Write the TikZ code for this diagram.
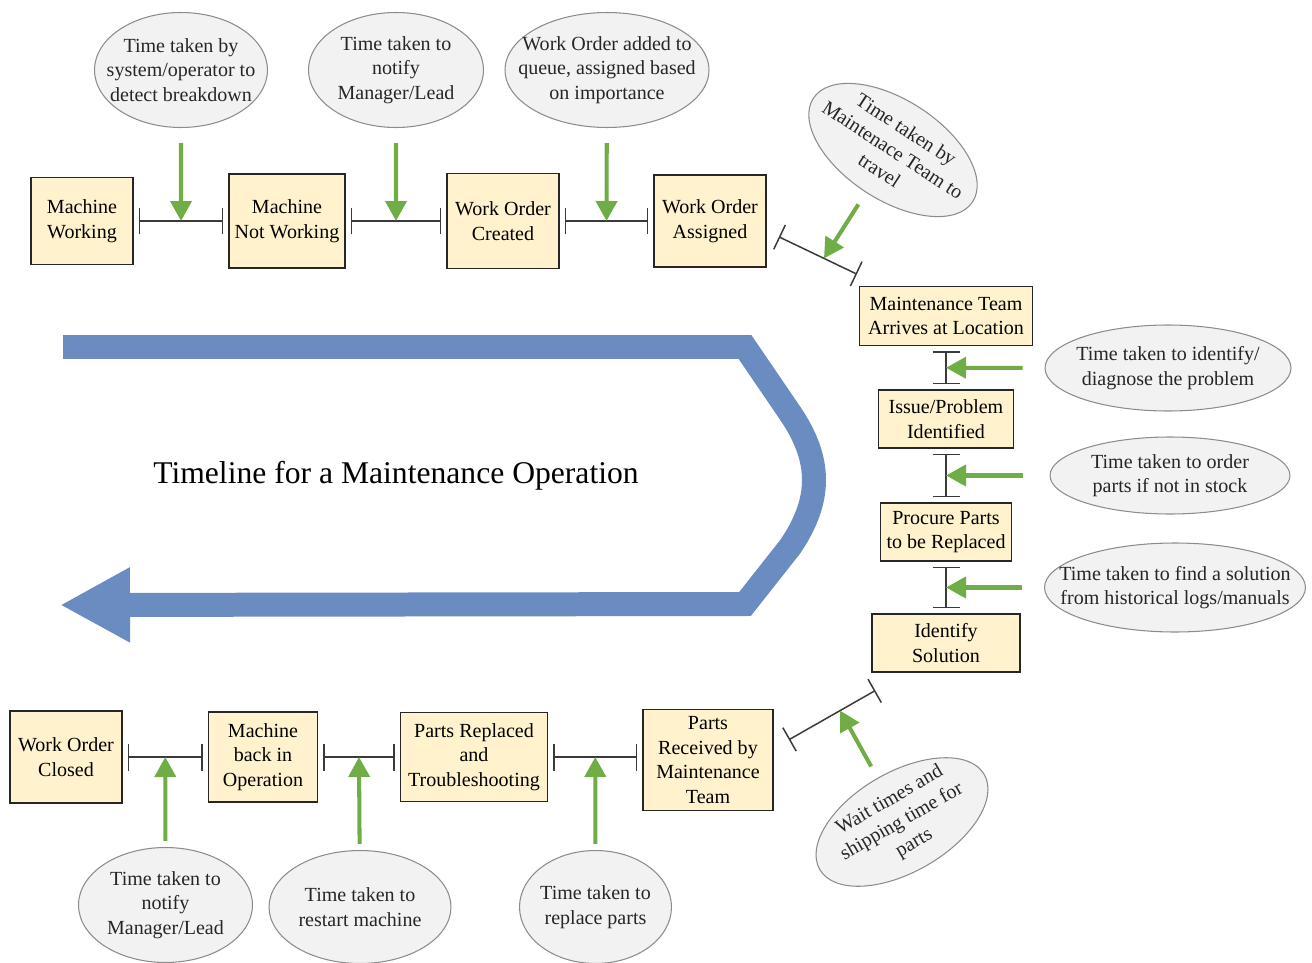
\documentclass[tikz,border=0pt]{standalone}
\usepackage{fontspec}
\setmainfont{Liberation Serif}
\usetikzlibrary{arrows.meta,shapes.geometric}
\definecolor{boxfill}{HTML}{FFF2CC}
\definecolor{boxline}{HTML}{262626}
\definecolor{notefill}{HTML}{F2F2F2}
\definecolor{noteline}{HTML}{8C8C8C}
\definecolor{delaygreen}{HTML}{70AD47}
\definecolor{loopblue}{HTML}{6B8CC0}
\definecolor{barink}{HTML}{3A3A3A}
\tikzset{
  stagebox/.style={
    rectangle, draw=boxline, line width=0.8pt, fill=boxfill,
    align=center, inner sep=0pt, font=\fontsize{11.4}{14}\selectfont
  },
  timenote/.style={
    ellipse, draw=noteline, line width=0.6pt, fill=notefill, inner sep=0pt
  },
  notetext/.style={align=center, font=\fontsize{11.4}{14}\selectfont, text=black!85},
  spanline/.style={{Bar[width=0.54cm]}-{Bar[width=0.54cm]}, line width=0.85pt, color=barink,
    shorten <=0.1cm, shorten >=0.1cm},
  delayarrow/.style={-{Triangle[length=0.4cm,width=0.42cm]}, line width=2.3pt, color=delaygreen},
  loopband/.style={-{Triangle[length=1.4cm,width=1.4cm]}, line width=0.48cm, color=loopblue,
    line join=miter},
}
\begin{document}
\begin{tikzpicture}[x=0.02cm, y=-0.02cm]
  \useasboundingbox (0,0) rectangle (1312,963);

  % big return arrow and title
  \draw[loopband] (63,347) -- (745,347) -- (790,413) .. controls (822,460) and (822,500) .. (790,547)
    -- (745,604) -- (60,605);
  \node[font=\fontsize{18}{22}\selectfont] (title) at (396,476) {Timeline for a Maintenance Operation};

  % stages, top row
  \node[stagebox, minimum width=2.04cm, minimum height=1.74cm] (mw) at (82,221) {Machine\\Working};
  \node[stagebox, minimum width=2.32cm, minimum height=1.88cm] (mnw) at (287,221) {Machine\\Not Working};
  \node[stagebox, minimum width=2.24cm, minimum height=1.9cm] (woc) at (503,221) {Work Order\\Created};
  \node[stagebox, minimum width=2.24cm, minimum height=1.84cm] (woa) at (710,221) {Work Order\\Assigned};

  % stages, right column
  \node[stagebox, minimum width=3.46cm, minimum height=1.18cm] (mta) at (946,316) {Maintenance Team\\Arrives at Location};
  \node[stagebox, minimum width=2.7cm, minimum height=1.16cm] (ipi) at (946,419) {Issue/Problem\\Identified};
  \node[stagebox, minimum width=2.62cm, minimum height=1.16cm] (ppr) at (946,532) {Procure Parts\\to be Replaced};
  \node[stagebox, minimum width=2.96cm, minimum height=1.16cm] (ids) at (946,643) {Identify\\Solution};

  % stages, bottom row
  \node[stagebox, minimum width=2.24cm, minimum height=1.84cm] (woclosed) at (66,757) {Work Order\\Closed};
  \node[stagebox, minimum width=2.18cm, minimum height=1.8cm] (mbo) at (263,757) {Machine\\back in\\Operation};
  \node[stagebox, minimum width=2.94cm, minimum height=1.78cm] (prt) at (474,757) {Parts Replaced\\and\\Troubleshooting};
  \node[stagebox, minimum width=2.6cm, minimum height=2.02cm] (prmt) at (708,760) {Parts\\Received by\\Maintenance\\Team};

  % spans between stages
  \draw[spanline] (mw) -- coordinate (g1) (mnw);
  \draw[spanline] (mnw) -- coordinate (g2) (woc);
  \draw[spanline] (woc) -- coordinate (g3) (woa);
  \draw[spanline, shorten <=0.27cm, shorten >=0.54cm] (woa.-10) -- coordinate (g4) (mta.155);
  \draw[spanline] (mta) -- coordinate (g5) (ipi);
  \draw[spanline] (ipi) -- coordinate (g6) (ppr);
  \draw[spanline] (ppr) -- coordinate (g7) (ids);
  \draw[spanline, shorten <=0.35cm, shorten >=0.72cm] (prmt.10) -- coordinate (g11) (ids.217);
  \draw[spanline] (prt) -- coordinate (g10) (prmt.west |- prt.east);
  \draw[spanline] (mbo) -- coordinate (g9) (prt);
  \draw[spanline] (woclosed) -- coordinate (g8) (mbo);

  % time notes
  \node[timenote, minimum width=3.46cm, minimum height=2.3cm,
    label={[notetext]center:{Time taken by\\system/operator to\\detect breakdown}}] (n1) at (181,70) {};
  \node[timenote, minimum width=3.5cm, minimum height=2.3cm,
    label={[notetext]center:{Time taken to\\notify\\Manager/Lead}}] (n2) at (396,70) {};
  \node[timenote, minimum width=4.08cm, minimum height=2.3cm,
    label={[notetext]center:{Work Order added to\\queue, assigned based\\on importance}}] (n3) at (607,70) {};
  \node[timenote, minimum width=3.8cm, minimum height=2cm, rotate=-33,
    label={[notetext, rotate=-33]center:{Time taken by\\Maintenace Team to\\travel}}] (n4) at (893,150) {};
  \node[timenote, minimum width=4.92cm, minimum height=1.72cm,
    label={[notetext]center:{Time taken to identify/\\diagnose the problem}}] (n5) at (1168,368) {};
  \node[timenote, minimum width=4.8cm, minimum height=1.54cm,
    label={[notetext]center:{Time taken to order\\parts if not in stock}}] (n6) at (1170,475.5) {};
  \node[timenote, minimum width=5.22cm, minimum height=1.78cm,
    label={[notetext]center:{Time taken to find a solution\\from historical logs/manuals}}] (n7) at (1175,587.5) {};
  \node[timenote, minimum width=3.48cm, minimum height=2.3cm,
    label={[notetext]center:{Time taken to\\notify\\Manager/Lead}}] (n8) at (165.5,905) {};
  \node[timenote, minimum width=3.64cm, minimum height=2.26cm,
    label={[notetext]center:{Time taken to\\restart machine}}] (n9) at (360,907) {};
  \node[timenote, minimum width=3.04cm, minimum height=2.26cm,
    label={[notetext]center:{Time taken to\\replace parts}}] (n10) at (595.5,907) {};
  \node[timenote, minimum width=3.8cm, minimum height=2cm, rotate=30,
    label={[notetext, rotate=30]center:{Wait times and\\shipping time for\\parts}}] (n11) at (902,822) {};

  % delays pointing at spans
  \draw[delayarrow, shorten <=0.3cm] (n1) -- (g1);
  \draw[delayarrow, shorten <=0.3cm] (n2) -- (g2);
  \draw[delayarrow, shorten <=0.3cm] (n3) -- (g3);
  \draw[delayarrow, shorten <=0.28cm] (n4) -- (g4);
  \draw[delayarrow, shorten <=0.44cm] (n5) -- (g5);
  \draw[delayarrow, shorten <=0.54cm] (n6) -- (g6);
  \draw[delayarrow, shorten <=0.44cm] (n7) -- (g7);
  \draw[delayarrow, shorten <=0.12cm] (n8) -- (g8);
  \draw[delayarrow, shorten <=0.12cm] (n9) -- (g9);
  \draw[delayarrow, shorten <=0.12cm] (n10) -- (g10);
  \draw[delayarrow, shorten <=0.26cm] (n11) -- (g11);
\end{tikzpicture}
\end{document}
